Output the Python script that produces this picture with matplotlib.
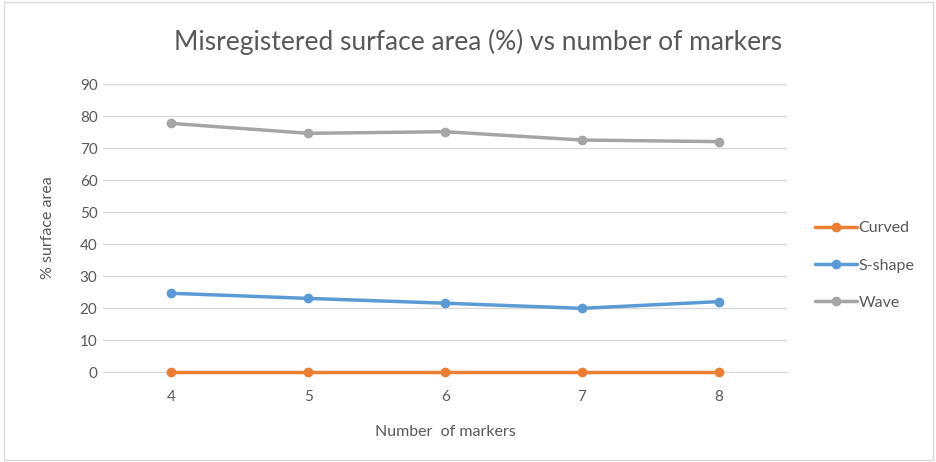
import matplotlib
matplotlib.use("Agg")
import matplotlib.pyplot as plt

markers_n = [4, 5, 6, 7, 8]
curved = [0, 0, 0, 0, 0]
s_shape = [24.6, 23.0, 21.5, 19.9, 22.0]
wave = [77.7, 74.6, 75.1, 72.5, 72.0]
yticks = [0, 10, 20, 30, 40, 50, 60, 70, 80, 90]

plt.rcParams['font.family'] = ['Lato', 'DejaVu Sans']
fig = plt.figure(figsize=(9.37, 4.62), dpi=100)
ax = fig.add_axes([0.110, 0.1948, 0.730, 0.6233])

xpos = list(range(len(markers_n)))
series = [("Curved", curved, "#ED7D31"), ("S-shape", s_shape, "#5B9BD5"), ("Wave", wave, "#A5A5A5")]
for name, vals, col in series:
    ax.plot(xpos, vals, color=col, lw=2.5, marker='o', ms=6, label=name,
            solid_capstyle='round', clip_on=False, zorder=3)

ax.set_xlim(-0.5, len(markers_n) - 0.5)
ax.set_ylim(0, 90)
ax.set_yticks(yticks)
ax.set_xticks(xpos)
ax.set_xticklabels([str(m) for m in markers_n])
ax.grid(axis='y', color='#D9D9D9', lw=1)
ax.set_axisbelow(True)
for s in ['top', 'right', 'left']:
    ax.spines[s].set_visible(False)
ax.spines['bottom'].set_color('#D9D9D9')
ax.spines['bottom'].set_zorder(0.5)
ax.tick_params(axis='both', length=0, colors='#595959', labelsize=11)
ax.tick_params(axis='y', pad=4)
ax.tick_params(axis='x', pad=13)
ax.set_xlabel("Number  of markers", color='#595959', fontsize=11.5, labelpad=15)
ax.set_ylabel("% surface area", color='#595959', fontsize=11.5, labelpad=18)
fig.text(0.51, 0.91, "Misregistered surface area (%) vs number of markers", ha='center', va='center',
         fontsize=19, color='#595959')
leg = ax.legend(loc='center left', bbox_to_anchor=(1.02, 0.37), frameon=False, fontsize=11.5,
                labelspacing=1.45, handlelength=2.6, handletextpad=0.1, labelcolor='#595959')
fig.add_artist(plt.Rectangle((0.004, 0.004), 0.992, 0.992, transform=fig.transFigure,
                             fill=False, edgecolor='#D9D9D9', lw=1))
fig.savefig("out.png", dpi=100)
